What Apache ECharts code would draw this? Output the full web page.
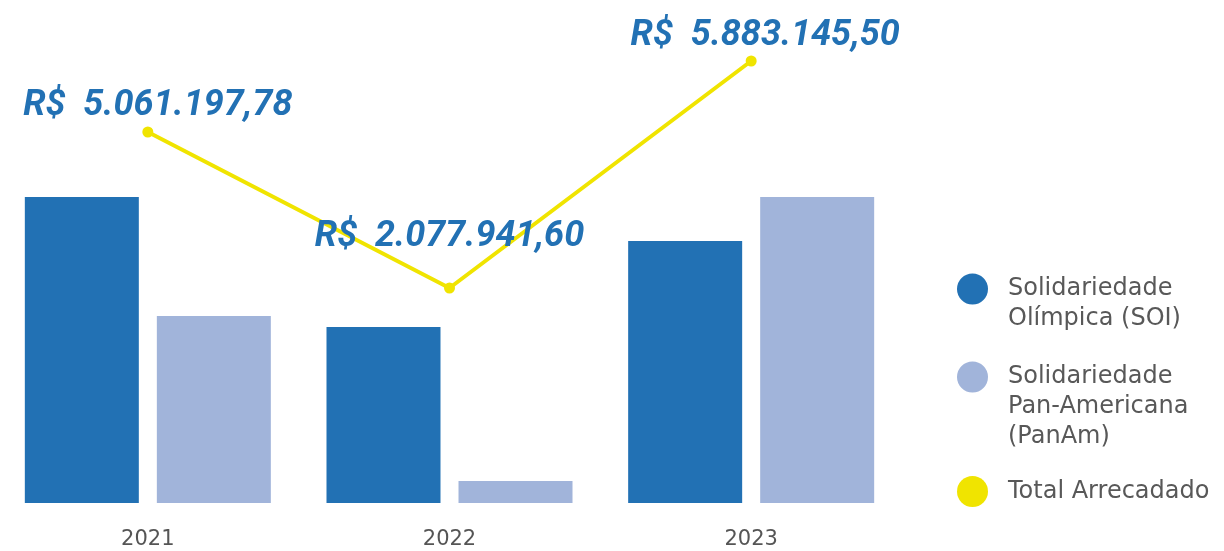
<!DOCTYPE html>
<html>
<head>
<meta charset="utf-8">
<script src="https://cdn.jsdelivr.net/npm/echarts@6/dist/echarts.min.js"></script>
<style>
  html, body { margin: 0; padding: 0; background: #fff; overflow: hidden; }
  #myEcharts { position: relative; left: -3px; width: 1227px; height: 551px; }
</style>
</head>
<body>
<div id="myEcharts"></div>
<script>
// dados (unidades relativas de altura)
var anos = ['2021', '2022', '2023']
var soi = [306, 176, 262]
var panam = [187, 22, 306]
var totalAltura = [371, 215, 442]
var totalTexto = ['R$  5.061.197,78', 'R$  2.077.941,60', 'R$  5.883.145,50']

var nomes = ['Solidariedade Olímpica (SOI)', 'Solidariedade Pan-Americana (PanAm)', 'Total Arrecadado']
var nomesLegenda = {
    'Solidariedade Olímpica (SOI)': 'Solidariedade\nOlímpica (SOI)',
    'Solidariedade Pan-Americana (PanAm)': 'Solidariedade\nPan-Americana\n(PanAm)',
    'Total Arrecadado': 'Total Arrecadado'
}
var cores = ['#2271b4', '#a1b4da', '#f0e400']

var myChart = echarts.init(document.getElementById('myEcharts'))

// linhas vazias antes do texto para alinhar a 1a linha com o círculo
function textoLegenda(name) {
    var t = nomesLegenda[name]
    var n = t.split('\n').length
    var pre = ''
    for (var k = 1; k < n; k++) pre += '\n'
    return pre + t
}

function legenda(i, top) {
    return {
        data: [nomes[i]],
        orient: 'vertical',
        left: 960,
        top: top,
        padding: 0,
        icon: 'circle',
        itemWidth: 31,
        itemHeight: 31,
        selectedMode: false,
        formatter: textoLegenda,
        textStyle: {
            fontFamily: 'DejaVu Sans',
            fontSize: 24,
            color: '#585858',
            lineHeight: 30,
            padding: [0, 0, 0, 15]
        }
    }
}

// deslocamento dos rótulos do total
var deslocRotulo = [[10, -3], [0, -28], [14, -2]]

var option = {
    animation: false,
    grid: { left: 0, right: 322, top: 0, bottom: 48 },
    legend: [legenda(0, 244), legenda(1, 302), legenda(2, 476)],
    xAxis: {
        type: 'category',
        data: anos,
        axisLine: { show: false },
        axisTick: { show: false },
        axisLabel: {
            margin: 26,
            fontFamily: 'DejaVu Sans',
            fontSize: 21,
            color: '#555'
        }
    },
    yAxis: {
        type: 'value',
        min: 0,
        max: 503,
        show: false
    },
    series: [
        {
            name: nomes[0],
            type: 'bar',
            data: soi,
            barWidth: 114,
            barGap: '15.8%',
            itemStyle: { color: cores[0] }
        },
        {
            name: nomes[1],
            type: 'bar',
            data: panam,
            barWidth: 114,
            barGap: '15.8%',
            itemStyle: { color: cores[1] }
        },
        {
            name: nomes[2],
            type: 'line',
            z: 5,
            symbol: 'circle',
            symbolSize: 11,
            lineStyle: { color: cores[2], width: 4 },
            itemStyle: { color: cores[2] },
            data: totalAltura.map(function (v, i) {
                return {
                    value: v,
                    label: { offset: deslocRotulo[i] }
                }
            }),
            label: {
                show: true,
                position: 'top',
                distance: 0,
                fontFamily: 'Roboto',
                fontStyle: 'italic',
                fontWeight: 'bold',
                fontSize: 36,
                color: '#2271b4',
                formatter: function (p) { return totalTexto[p.dataIndex] }
            }
        }
    ]
}
myChart.setOption(option)
</script>
</body>
</html>
